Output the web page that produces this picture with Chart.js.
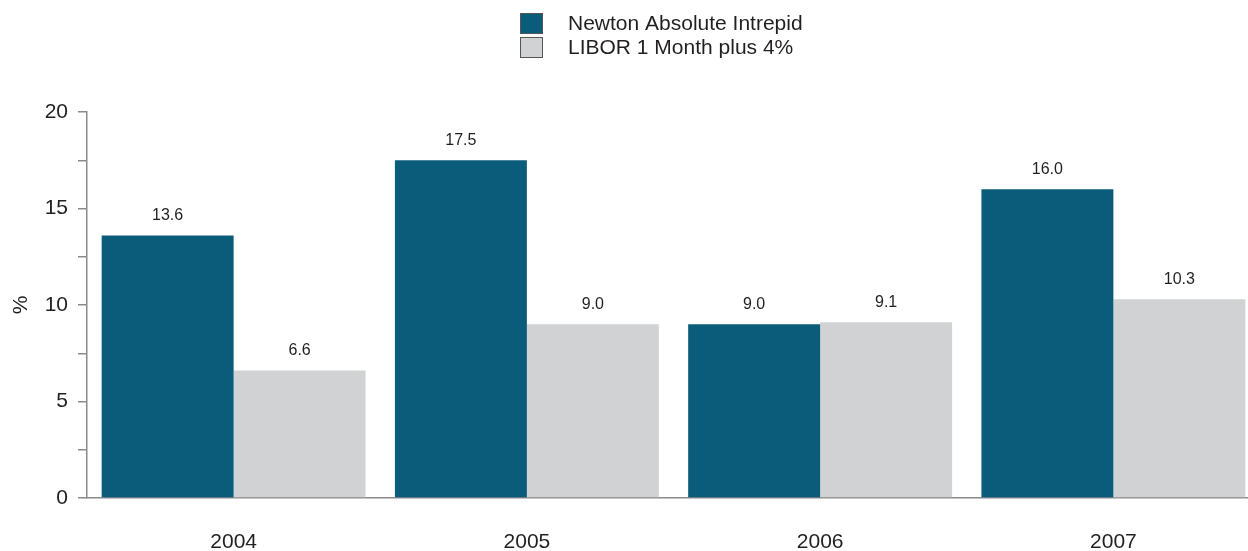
<!DOCTYPE html>
<html>
<head>
<meta charset="utf-8">
<script src="https://cdn.jsdelivr.net/npm/chart.js@4"></script>
<style>
    html, body { margin: 0; padding: 0; overflow: hidden; background: #fff; }
    #wrap { width: 1260px; height: 551px; }
</style>
</head>
<body>
<div id="wrap"><canvas id="chart" width="1260" height="551"></canvas></div>
<script>
const years = ['2004', '2005', '2006', '2007'];
const newtonValues = [13.6, 17.5, 9.0, 16.0];
const liborValues = [6.6, 9.0, 9.1, 10.3];
const seriesNames = ['Newton Absolute Intrepid', 'LIBOR 1 Month plus 4%'];

const NAVY = '#0b5c7b';
const GREY = '#d1d2d4';
const TEXT = '#231f20';
const AXIS = '#8a8a8a';
const FONT = "'Liberation Sans', Arial, sans-serif";

// value labels above each bar
const valueLabels = {
    id: 'valueLabels',
    afterDatasetsDraw(chart) {
        const ctx = chart.ctx;
        ctx.save();
        ctx.font = '16px ' + FONT;
        ctx.fillStyle = TEXT;
        ctx.textAlign = 'center';
        ctx.textBaseline = 'middle';
        chart.data.datasets.forEach((ds, i) => {
            chart.getDatasetMeta(i).data.forEach((bar, j) => {
                ctx.fillText(ds.data[j].toFixed(1), bar.x, bar.y - 20);
            });
        });
        ctx.restore();
    }
};

// stacked legend at the top
const stackedLegend = {
    id: 'stackedLegend',
    afterDraw(chart) {
        const ctx = chart.ctx;
        ctx.save();
        ctx.font = '21px ' + FONT;
        ctx.textBaseline = 'middle';
        chart.data.datasets.forEach((ds, i) => {
            const y = 13 + i * 24;
            ctx.fillStyle = ds.backgroundColor;
            ctx.fillRect(520.5, y, 22, 20);
            ctx.strokeStyle = '#555';
            ctx.lineWidth = 1;
            ctx.strokeRect(520.5, y + 0.5, 22, 20);
            ctx.fillStyle = TEXT;
            ctx.fillText(ds.label, 568, y + 11);
        });
        ctx.restore();
    }
};

new Chart(document.getElementById('chart').getContext('2d'), {
    type: 'bar',
    data: {
        labels: years,
        datasets: [
            { label: seriesNames[0], data: newtonValues, backgroundColor: NAVY },
            { label: seriesNames[1], data: liborValues, backgroundColor: GREY }
        ]
    },
    options: {
        responsive: false,
        animation: false,
        layout: { padding: { top: 112, right: 0, left: 0, bottom: 0 } },
        datasets: {
            bar: { categoryPercentage: 0.9, barPercentage: 1.0 }
        },
        scales: {
            x: {
                grid: { display: false },
                border: { display: true, color: AXIS, width: 1.5 },
                ticks: { color: TEXT, font: { family: FONT, size: 21 }, padding: 24 },
                afterFit(scale) { scale.height = 53; }
            },
            y: {
                min: 0,
                max: 20,
                title: { display: true, text: '%', color: TEXT, font: { family: FONT, size: 21 }, padding: { top: 9, bottom: 0 } },
                ticks: {
                    stepSize: 2.5,
                    color: TEXT,
                    font: { family: FONT, size: 21 },
                    padding: 10,
                    callback: v => (v % 5 === 0 ? v : '')
                },
                grid: { drawOnChartArea: false, drawTicks: true, tickLength: 9, color: AXIS, lineWidth: 1.5 },
                border: { display: true, color: AXIS, width: 1.5 },
                afterFit(scale) { scale.width = 87; }
            }
        },
        plugins: {
            legend: { display: false },
            tooltip: { enabled: false }
        }
    },
    plugins: [valueLabels, stackedLegend]
});
</script>
</body>
</html>
